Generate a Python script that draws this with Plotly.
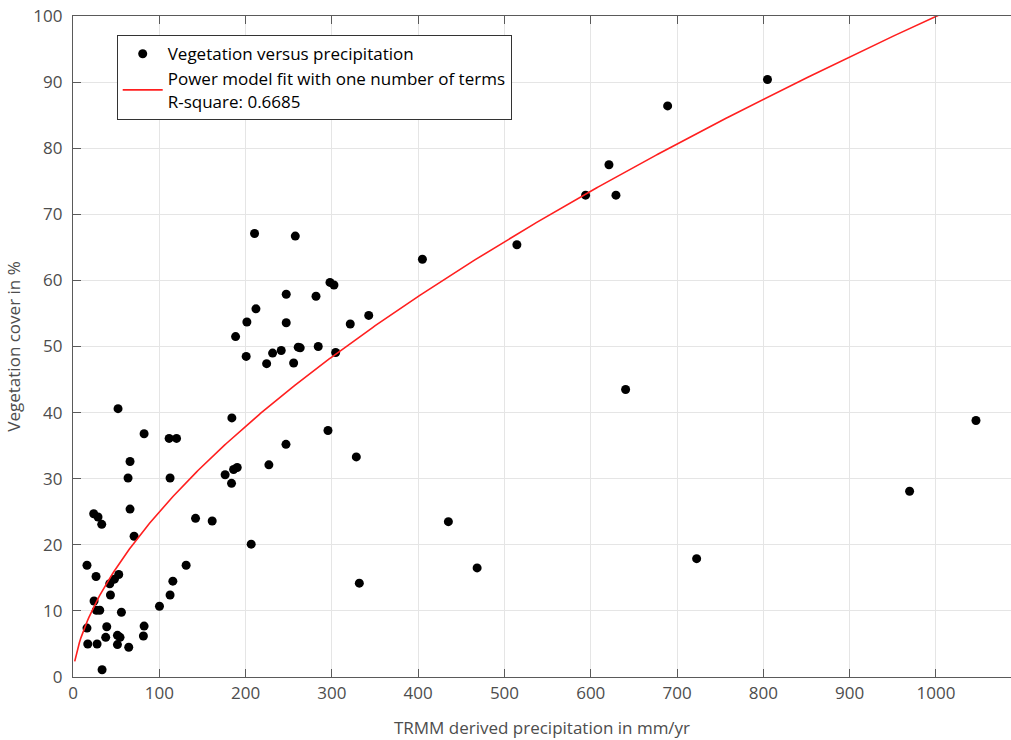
import numpy as np
import plotly.graph_objects as go

# TRMM derived precipitation (mm/yr) and vegetation cover (%)
precip = [52.2, 82.4, 111.4, 120.0, 66.1, 63.8, 112.5, 66.1, 24.0, 29.0,
          33.3, 70.8, 16.2, 26.7, 53.0, 48.0, 42.6, 43.4, 24.4, 27.1,
          31.0, 56.1, 16.2, 39.1, 82.4, 37.9, 51.5, 54.5, 81.6, 17.1,
          27.9, 51.5, 64.6, 33.7, 100.2, 112.5, 115.7, 131.1, 142.0, 161.3,
          176.3, 183.7, 186.1, 190.3, 184.1, 206.5,
          210.4, 257.6, 297.8, 302.4, 247.1, 281.6, 212.0, 201.5, 247.1, 321.3,
          342.7, 188.4, 200.7, 231.3, 241.3, 224.4, 255.7, 261.0, 263.3, 284.2,
          304.4, 295.5, 246.8, 328.3, 227.0,
          404.9, 514.4, 435.0, 468.3, 331.8,
          594.0, 629.2, 621.1, 689.1, 804.8,
          640.4, 722.7, 969.5, 1046.4]
veg = [40.6, 36.8, 36.1, 36.1, 32.6, 30.1, 30.1, 25.4, 24.7, 24.2,
       23.1, 21.3, 16.9, 15.2, 15.5, 14.8, 14.1, 12.4, 11.5, 10.1,
       10.1, 9.8, 7.4, 7.6, 7.7, 6.0, 6.3, 6.0, 6.2, 5.0,
       5.0, 4.9, 4.5, 1.1, 10.7, 12.4, 14.5, 16.9, 24.0, 23.6,
       30.6, 29.3, 31.4, 31.7, 39.2, 20.1,
       67.1, 66.7, 59.7, 59.3, 57.9, 57.6, 55.7, 53.7, 53.6, 53.4,
       54.7, 51.5, 48.5, 49.0, 49.4, 47.4, 47.5, 49.9, 49.8, 50.0,
       49.1, 37.3, 35.2, 33.3, 32.1,
       63.2, 65.4, 23.5, 16.5, 14.2,
       72.9, 72.9, 77.5, 86.4, 90.4,
       43.5, 17.9, 28.1, 38.8]

# Power model y = a * x^b
fit_a = 1.5625
fit_b = 0.602
fit_x_start = 2
fit_x_end = 1087

x_ticks = [0, 100, 200, 300, 400, 500, 600, 700, 800, 900, 1000]
y_ticks = [0, 10, 20, 30, 40, 50, 60, 70, 80, 90, 100]

fx = np.linspace(fit_x_start, fit_x_end, 600)
fy = fit_a * fx ** fit_b

font_family = "Open Sans, Noto Sans, sans-serif"
txt_color = "#4d4d4d"
axis_color = "#5a5a5a"

fig = go.Figure()
fig.add_trace(go.Scatter(
    x=precip, y=veg, mode="markers",
    marker=dict(color="black", size=9),
    name="Vegetation versus precipitation"))
fig.add_trace(go.Scatter(
    x=fx, y=fy, mode="lines",
    line=dict(color="#ff1f1f", width=1.6),
    name="Power model fit with one number of terms<br>R-square: 0.6685"))

fig.update_layout(
    width=1011, height=740,
    margin=dict(l=73, r=0, t=16, b=63),
    paper_bgcolor="white", plot_bgcolor="white",
    font=dict(family=font_family, size=17, color=txt_color),
    showlegend=True,
    legend=dict(
        x=0.0466, y=0.971, xanchor="left", yanchor="top",
        bgcolor="white", bordercolor="#333333", borderwidth=1,
        font=dict(size=17, color="black"),
        tracegroupgap=0, itemwidth=40,
    ),
)
fig.update_xaxes(
    range=[0, 1087], tickvals=x_ticks, ticktext=[str(v) for v in x_ticks],
    automargin=False, ticklabeloverflow="allow",
    showgrid=True, gridcolor="#e5e5e5", gridwidth=1,
    showline=True, linecolor=axis_color, linewidth=1.3, mirror="ticks",
    ticks="inside", ticklen=8, tickcolor=axis_color,
    zeroline=False,
    tickfont=dict(size=17),
    title=dict(text="TRMM derived precipitation in mm/yr", standoff=19,
               font=dict(size=17, color=txt_color)),
)
fig.update_yaxes(
    range=[0, 100], tickvals=y_ticks, ticktext=[str(v) for v in y_ticks],
    automargin=False, ticklabeloverflow="allow",
    showgrid=True, gridcolor="#e5e5e5", gridwidth=1,
    showline=True, linecolor=axis_color, linewidth=1.3,
    ticks="inside", ticklen=8, tickcolor=axis_color,
    ticklabelstandoff=6,
    zeroline=False,
    tickfont=dict(size=17),
    title=dict(text="Vegetation cover in %", standoff=8,
               font=dict(size=17, color=txt_color)),
)

fig.write_html("out.html",
               config={"displayModeBar": False},
               post_script="document.body.style.margin='0';document.body.style.overflow='hidden';")
